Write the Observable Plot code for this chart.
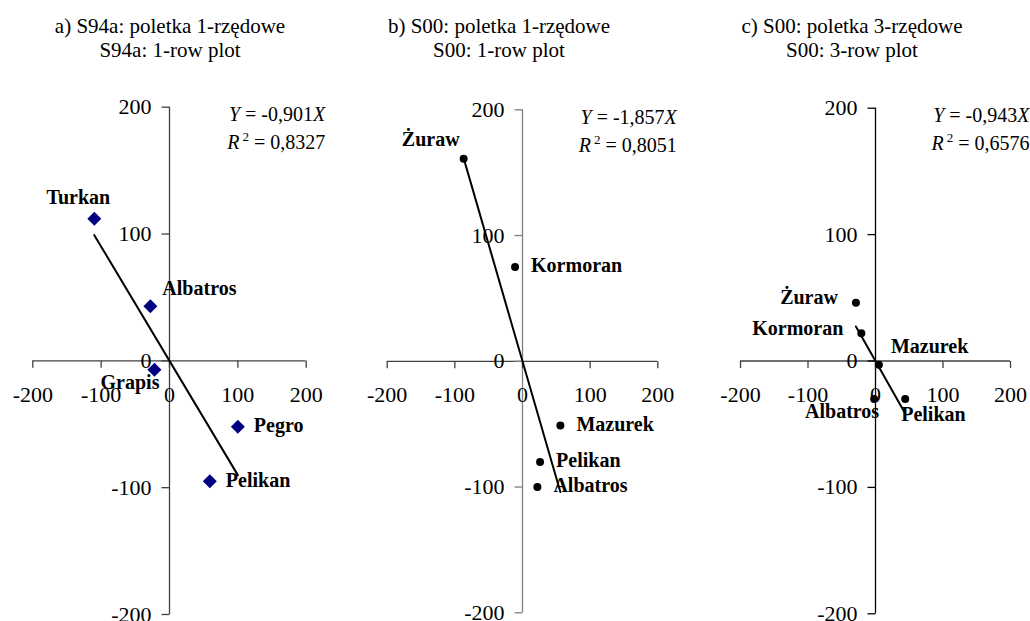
<!DOCTYPE html>
<html><head><meta charset="utf-8">
<script src="https://cdn.jsdelivr.net/npm/d3@7"></script>
<script src="https://cdn.jsdelivr.net/npm/@observablehq/plot@0.6"></script>
<style>
html,body{margin:0;padding:0;background:#fff;}
#chart{position:relative;width:1030px;height:621px;overflow:hidden;font-family:"Liberation Serif","Times New Roman",serif;}
.panel{position:absolute;top:0;}
.ttl{position:absolute;top:14px;width:340px;text-align:center;font-size:21px;line-height:24px;color:#000;white-space:nowrap;}
</style></head><body><div id="chart"></div>
<script>
// ---- data ----
const titles = [
  ["a) S94a: poletka 1-rzędowe", "S94a: 1-row plot"],
  ["b) S00: poletka 1-rzędowe", "S00: 1-row plot"],
  ["c) S00: poletka 3-rzędowe", "S00: 3-row plot"]
];
const axisDomain = [-200, 200];
const tickValues = [-200, -100, 0, 100, 200];

const namesA = ["Turkan", "Albatros", "Grapis", "Pegro", "Pelikan"];
const xA = [-110, -28, -22, 100, 59];
const yA = [112, 43, -7, -52, -95];
const placeA = ["N", "NE", "SW", "E", "E"];

const namesB = ["Żuraw", "Kormoran", "Mazurek", "Pelikan", "Albatros"];
const xB = [-87, -11, 56, 26, 22];
const yB = [161, 75, -51, -80, -100];
const placeB = ["NW", "E", "E", "E", "E"];

const namesC = ["Żuraw", "Kormoran", "Mazurek", "Albatros", "Pelikan"];
const xC = [-29, -21, 5, -2, 44];
const yC = [46, 22, -3, -30, -30];
const placeC = ["W", "W", "NE", "SW", "SE"];

const slopes = [-0.901, -1.857, -0.943];
const r2s = [0.8327, 0.8051, 0.6576];

// ---- layout / style ----
const layout = [
  {left: 0,   width: 345, mL: 32.3, mR: 39.3, mT: 106.7, mB: 7,   titleX: 170, yAxisColor: "#404040", symbol: "diamond2", r: 6.3, fill: "#000080"},
  {left: 345, width: 345, mL: 41.7, mR: 32.7, mT: 109.3, mB: 8.7, titleX: 499, yAxisColor: "#808080", symbol: "circle", r: 4, fill: "#000"},
  {left: 690, width: 340, mL: 50,   mR: 20,   mT: 107.7, mB: 7.7, titleX: 852, yAxisColor: "#000000", symbol: "circle", r: 4, fill: "#000"}
];
const placements = {
  N:  {textAnchor: "middle", dx: -16, dy: -21},
  NE: {textAnchor: "start",  dx: 12,  dy: -18},
  NW: {textAnchor: "end",    dx: -4,  dy: -19},
  E:  {textAnchor: "start",  dx: 16,  dy: -1},
  W:  {textAnchor: "end",    dx: -18, dy: -5},
  SW: {textAnchor: "end",    dx: 5,   dy: 13},
  SE: {textAnchor: "start",  dx: -4,  dy: 16}
};
const xAxisColor = "#404040";
const tickDown = {draw(ctx) { ctx.moveTo(0, 0); ctx.lineTo(0, 7); }};
const tickLeft = {draw(ctx) { ctx.moveTo(0, 0); ctx.lineTo(-8, 0); }};
const fmt = (v, d) => v.toFixed(d).replace(".", ",");

const series = [
  {names: namesA, xs: xA, ys: yA, place: placeA},
  {names: namesB, xs: xB, ys: yB, place: placeB},
  {names: namesC, xs: xC, ys: yC, place: placeC}
];

const chart = document.getElementById("chart");

series.forEach((s, i) => {
  const L = layout[i];
  const rows = s.names.map((n, j) => ({name: n, x: s.xs[j], y: s.ys[j], place: s.place[j]}));
  const ext = d3.extent(s.xs);
  const trend = ext.map(x => ({x, y: slopes[i] * x}));
  const eq1 = `Y = ${fmt(slopes[i], 3)}X`;
  const eq2 = `R2 = ${fmt(r2s[i], 4)}`;

  const labelMarks = Object.entries(placements).map(([k, p]) =>
    Plot.text(rows, {filter: d => d.place === k, x: "x", y: "y", text: "name",
      textAnchor: p.textAnchor, dx: p.dx, dy: p.dy, fontWeight: "bold", fontSize: 20, fill: "#000"}));

  const svg = Plot.plot({
    width: L.width, height: 621,
    marginLeft: L.mL, marginRight: L.mR, marginTop: L.mT, marginBottom: L.mB,
    x: {domain: axisDomain, axis: null},
    y: {domain: axisDomain, axis: null},
    style: {fontFamily: '"Liberation Serif","Times New Roman",serif', overflow: "visible", background: "transparent"},
    marks: [
      Plot.ruleY([0], {x1: axisDomain[0], x2: axisDomain[1], stroke: xAxisColor, strokeWidth: 1.3}),
      Plot.ruleX([0], {y1: axisDomain[0], y2: axisDomain[1], stroke: L.yAxisColor, strokeWidth: 1.3}),
      Plot.dot(tickValues, {x: d => d, y: 0, symbol: tickDown, stroke: xAxisColor, fill: "none", strokeWidth: 1.3}),
      Plot.dot(tickValues, {x: 0, y: d => d, symbol: tickLeft, stroke: L.yAxisColor, fill: "none", strokeWidth: 1.3}),
      Plot.text(tickValues, {x: d => d, y: 0, text: d => String(d), dy: 34, fontSize: 22, fill: "#000"}),
      Plot.text(tickValues, {x: 0, y: d => d, text: d => String(d), dx: -18, textAnchor: "end", fontSize: 22, fill: "#000"}),
      Plot.dot(rows, {x: "x", y: "y", symbol: L.symbol, r: L.r, fill: L.fill, stroke: "none"}),
      Plot.line(trend, {x: "x", y: "y", stroke: "#000", strokeWidth: 2}),
      ...labelMarks,
      Plot.text([eq1], {text: d => d, frameAnchor: "top-right", textAnchor: "end", dx: 19, dy: 0, fontSize: 20, fill: "#000"}),
      Plot.text([eq2], {text: d => d, frameAnchor: "top-right", textAnchor: "end", dx: 19, dy: 28, fontSize: 20, fill: "#000"})
    ]
  });
  svg.classList.add("panel");
  svg.style.left = L.left + "px";
  svg.style.position = "absolute";
  svg.style.top = "0px";

  // rich text for equations
  svg.querySelectorAll("text").forEach(t => {
    const str = t.textContent;
    const inner = t.querySelector("tspan");
    const baseDy = t.getAttribute("dy") ? null : (inner ? inner.getAttribute("dy") : null);
    if (str === eq1) {
      if (baseDy) t.setAttribute("dy", baseDy);
      t.innerHTML = `<tspan font-style="italic">Y</tspan> = ${fmt(slopes[i], 3)}<tspan font-style="italic">X</tspan>`;
    } else if (str === eq2) {
      if (baseDy) t.setAttribute("dy", baseDy);
      t.innerHTML = `<tspan font-style="italic">R</tspan><tspan dx="3" dy="-8" font-size="13">2</tspan><tspan dy="8"> = ${fmt(r2s[i], 4)}</tspan>`;
    }
  });
  chart.appendChild(svg);

  const ttl = document.createElement("div");
  ttl.className = "ttl";
  ttl.style.left = (L.titleX - 170) + "px";
  ttl.innerHTML = titles[i][0] + "<br>" + titles[i][1];
  chart.appendChild(ttl);
});
</script></body></html>
